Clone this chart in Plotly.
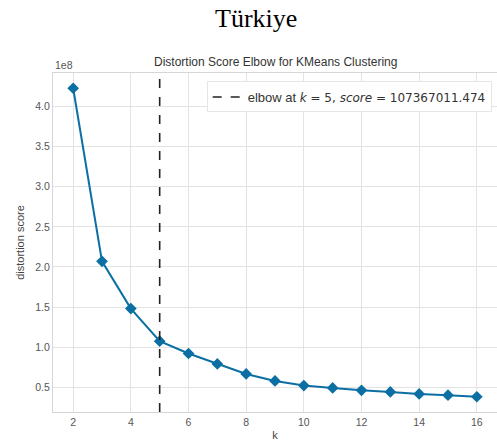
import plotly.graph_objects as go

# Elbow curve: distortion score per number of clusters
k_values = list(range(2, 17))
distortion = [4.23e8, 2.07e8, 1.48e8, 1.07367011474e8, 0.92e8, 0.79e8, 0.665e8,
              0.578e8, 0.52e8, 0.49e8, 0.46e8, 0.44e8, 0.415e8, 0.40e8, 0.38e8]
elbow_k = 5
elbow_score = 107367011.474
y_tick_vals = [0.5e8, 1.0e8, 1.5e8, 2.0e8, 2.5e8, 3.0e8, 3.5e8, 4.0e8]
y_tick_text = ["0.5", "1.0", "1.5", "2.0", "2.5", "3.0", "3.5", "4.0"]
x_tick_vals = [2, 4, 6, 8, 10, 12, 14, 16]

y_range = [0.19e8, 4.42e8]
x_range = [1.3, 16.7]

line_color = "#0b6fa4"
grid_color = "#e3e3e3"
tick_color = "#555555"

fig = go.Figure()

fig.add_trace(go.Scatter(
    x=k_values, y=distortion, mode="lines+markers",
    line=dict(color=line_color, width=2),
    marker=dict(symbol="diamond", size=9, color=line_color),
    showlegend=False, hoverinfo="x+y",
))

legend_label = (
    '<span style="font-family:Liberation Sans;font-size:13px">elbow at </span>'
    '<i>k</i> = %d, <i>score</i> = %.3f' % (elbow_k, elbow_score)
)

fig.add_trace(go.Scatter(
    x=[elbow_k, elbow_k], y=y_range, mode="lines",
    line=dict(color="#222222", width=1.6, dash="dash"),
    name=legend_label,
    showlegend=True,
))

fig.update_layout(
    width=497, height=447,
    margin=dict(l=53, r=0, t=73, b=35),
    paper_bgcolor="white", plot_bgcolor="white",
    font=dict(family="Liberation Sans, Arial, sans-serif", color=tick_color, size=11),
    showlegend=True,
    legend=dict(
        x=0.988, y=0.975, xanchor="right", yanchor="top",
        bgcolor="white", bordercolor="#e6e6e6", borderwidth=1,
        font=dict(size=12, color="#333333",
                  family="DejaVu Sans, Liberation Sans, sans-serif"),
        itemwidth=30,
    ),
    xaxis=dict(
        range=x_range, tickvals=x_tick_vals,
        showgrid=True, gridcolor=grid_color, gridwidth=1,
        showline=True, linecolor="#d6d6d6", linewidth=1, mirror=True,
        zeroline=False, ticks="", ticklen=0,
        tickfont=dict(size=10.5, color=tick_color),
        title=dict(text="k", font=dict(size=11, color="#444444"), standoff=4),
    ),
    yaxis=dict(
        range=y_range, tickvals=y_tick_vals, ticktext=y_tick_text,
        showgrid=True, gridcolor=grid_color, gridwidth=1,
        showline=True, linecolor="#d6d6d6", linewidth=1, mirror=True,
        zeroline=False, ticks="", ticklen=0,
        tickfont=dict(size=10.5, color=tick_color),
        title=dict(text="distortion score", font=dict(size=11, color="#444444"),
                   standoff=8),
    ),
    annotations=[
        dict(text="Türkiye", xref="paper", yref="paper", x=0.457, y=1, yshift=55,
             showarrow=False, xanchor="center", yanchor="middle",
             font=dict(family="Liberation Serif, Times New Roman, serif", size=26,
                       color="#000000")),
        dict(text="Distortion Score Elbow for KMeans Clustering",
             xref="paper", yref="paper", x=0.5, y=1, yshift=11,
             showarrow=False, xanchor="center", yanchor="middle",
             font=dict(size=12, color="#333333")),
        dict(text="1e8", xref="paper", yref="paper", x=0, y=1, yshift=8,
             showarrow=False, xanchor="left", yanchor="middle",
             font=dict(size=10.5, color=tick_color)),
    ],
)

fig.write_html("out.html")
